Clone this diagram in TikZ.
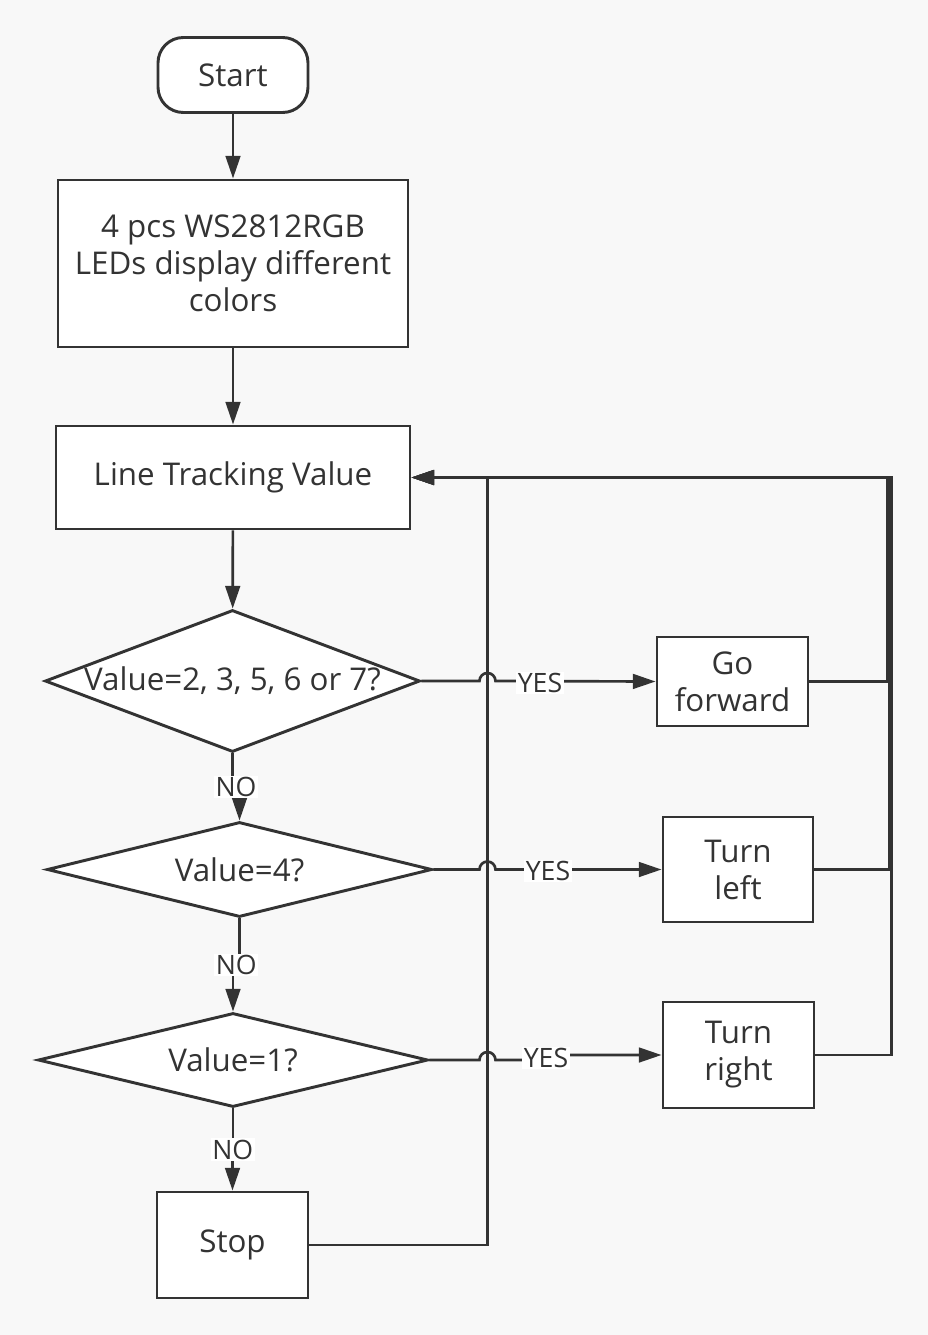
\documentclass[tikz,border=0pt]{standalone}
\usepackage{fontspec}
\setmainfont{Open Sans}
\usepackage{tikz}
\usetikzlibrary{arrows.meta,shapes.geometric,calc}
\definecolor{Ink}{RGB}{51,51,51}
\definecolor{Paper}{RGB}{248,248,248}
\tikzset{
  box/.style={rectangle,draw=Ink,line width=2.2pt,fill=white,text=Ink,align=center,inner sep=0pt,font=\fontsize{23.5}{27.75}\selectfont},
  term/.style={box,rounded corners=19pt},
  decision/.style={diamond,draw=Ink,line width=2.2pt,fill=white,text=Ink,inner sep=0pt,font=\fontsize{23.5}{27.75}\selectfont},
  line/.style={draw=Ink,line width=2pt},
  flow/.style={line,-{Triangle[length=17pt,width=11pt]}},
  yn/.style={fill=white,text=Ink,inner sep=1pt,font=\fontsize{20}{22}\selectfont}
}
\begin{document}
\begin{tikzpicture}[x=0.75pt,y=-0.75pt]
\fill[Paper] (0,0) rectangle (928,1335);
\useasboundingbox (0,0) rectangle (928,1335);

% main column
\node[term,minimum width=112.5pt,minimum height=56.25pt] (start) at (233,75) {Start};
\node[box,minimum width=262.5pt,minimum height=125.25pt] (leds) at (233,263.5) {4 pcs WS2812RGB\\LEDs display different\\colors};
\node[box,minimum width=265.5pt,minimum height=77.25pt] (track) at (233,477.5) {Line Tracking Value};
\node[decision,minimum width=281.25pt,minimum height=106.5pt] (d1) at (232.5,681) {\makebox[0pt]{Value=2, 3, 5, 6 or 7?}};
\node[decision,minimum width=288.75pt,minimum height=71.25pt] (d2) at (239.5,869.5) {\makebox[0pt]{Value=4?}};
\node[decision,minimum width=292.5pt,minimum height=70.5pt] (d3) at (233,1060) {\makebox[0pt]{Value=1?}};
\node[box,minimum width=113.25pt,minimum height=79.5pt] (stop) at (232.5,1245) {Stop};

% actions
\node[box,minimum width=113.25pt,minimum height=66.75pt] (fwd) at (732.5,681.5) {Go\\forward};
\node[box,minimum width=112.5pt,minimum height=78.75pt] (left) at (738,869.5) {Turn\\left};
\node[box,minimum width=113.25pt,minimum height=79.5pt] (right) at (738.5,1055) {Turn\\right};

\draw[flow] (start) -- (leds);
\draw[flow] (leds) -- (track);
\draw[flow] (track) -- (d1);

\coordinate (m1) at ($(d1.south)!.5!(d2.north)$);
\coordinate (m2) at ($(d2.south)!.5!(d3.north)$);
\coordinate (m3) at ($(d3.south)!.5!(stop.north)$);
\draw[flow] (d1.south) |- (m1) -| (d2.north);
\draw[flow] (d2.south) |- (m2) -| (d3.north);
\draw[flow] (d3.south) |- (m3) -| (stop.north);
\node[yn] (no1) at (m1) {NO};
\node[yn] (no2) at (m2) {NO};
\node[yn] (no3) at (m3) {NO};

% yes branches, hopping over the return line
\draw[flow] (d1.east) -- ++(58,0) arc[start angle=180,end angle=0,radius=6pt] -- (fwd.west);
\draw[flow] (d2.east) -- ++(46,0) arc[start angle=180,end angle=0,radius=6pt] -- (left.west);
\draw[flow] (d3.east) -- ++(50,0) arc[start angle=180,end angle=0,radius=6pt] -- ++(52,0) |- (right.west);
\node[yn] (yes1) at (540,683) {YES};
\node[yn] (yes2) at (548,871) {YES};
\node[yn] (yes3) at (546,1058) {YES};

% back to the sensor
\draw[flow] (fwd.east) -- ++(78,0) |- (track.east);
\draw[flow] (left.east) -- ++(75,0) |- (track.east);
\draw[flow] (right.east) -- ++(76,0) |- (track.east);
\draw[flow] (stop.east) -- ++(178,0) |- (track.east);
\end{tikzpicture}
\end{document}
